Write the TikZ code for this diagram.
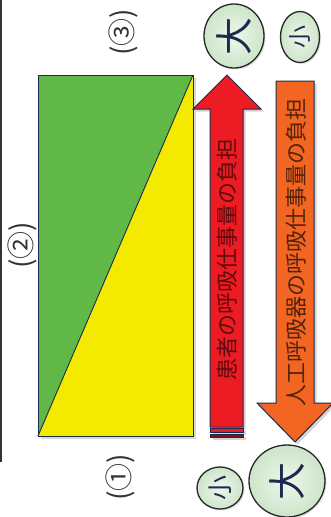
\documentclass[tikz,border=0pt]{standalone}
\usepackage{fontspec}
\newfontfamily\cjk{Noto Sans CJK JP}
\usetikzlibrary{shadows,shapes.geometric}
\definecolor{navy}{HTML}{1B2A4E}
\definecolor{myred}{HTML}{ED1C24}
\definecolor{myorange}{HTML}{F26522}
\definecolor{mygreen}{HTML}{60B946}
\definecolor{myyellow}{HTML}{F3EA00}
\definecolor{circin}{HTML}{EEF7EC}
\definecolor{circout}{HTML}{CDE5C9}
\tikzset{
  shad/.style={drop shadow={opacity=0.35,shadow xshift=2.5pt,shadow yshift=-2.5pt}},
  arrowbody/.style={draw=navy,line width=1pt,shad},
  bubble/.style={ellipse,draw=black!85,line width=1.3pt,inner color=circin,outer color=circout,drop shadow={opacity=0.25,shadow xshift=1.5pt,shadow yshift=-1.5pt},text=navy,inner sep=0pt},
  vtext/.style={rotate=90,inner sep=0pt,font=\cjk},
  numlabel/.style={rotate=90,inner sep=0pt,font=\cjk\fontsize{28}{28}\selectfont,text=black!80},
}
\begin{document}
\begin{tikzpicture}[x=1pt,y=-1pt]
\useasboundingbox (0,0) rectangle (331,517);
% left border line
\coordinate (lt) at (1,0);
\coordinate (lb) at (1,462);
\draw[line width=2pt,black!80] (lt) -- (lb);
% rectangle
\fill[black!30,opacity=0.5] (40.5,77.5) rectangle (196,439);
\fill[mygreen] (38,75) -- (193,75) -- (38,436) -- cycle;
\fill[myyellow] (193,75) -- (193,436) -- (38,436) -- cycle;
\draw[navy,line width=0.9pt] (193,75) -- (38,436);
\draw[navy,line width=0.8pt] (38,75) rectangle (193,436);
% red arrow
\path[arrowbody,fill=myred] (210,427) -- (210,109) -- (193,109) -- (227,75) -- (261,109) -- (243,109) -- (243,427) -- cycle;
\path[draw=navy,line width=0.8pt,fill=myred,shad] (210,428.5) rectangle (243,432);
\path[draw=navy,line width=0.8pt,fill=myred!55!black,shad] (210,434) rectangle (243,437);
\node[vtext,text=myred!40!black,font=\cjk\fontsize{22}{22}\selectfont] (redtext) at (227,259) {患者の呼吸仕事量の負担};
% orange arrow
\path[arrowbody,fill=myorange] (276,81) -- (314,81) -- (314,403) -- (333,403) -- (295,442) -- (257,403) -- (276,403) -- cycle;
\node[vtext,text=myorange!35!black,font=\cjk\fontsize{22}{22}\selectfont] (ortext) at (296,252) {人工呼吸器の呼吸仕事量の負担};
% bubbles
\node[bubble,minimum width=60pt,minimum height=64pt] (bigtop) at (234,36) {};
\node[vtext,text=navy,font=\cjk\fontsize{38}{38}\selectfont] at (bigtop) {大};
\node[bubble,minimum width=39pt,minimum height=51pt] (smalltop) at (300,37) {};
\node[vtext,text=navy,font=\cjk\fontsize{23}{23}\selectfont] at (smalltop) {小};
\node[bubble,minimum width=46pt,minimum height=42pt] (smallbot) at (220,488) {};
\node[vtext,text=navy,font=\cjk\fontsize{25}{25}\selectfont] at (smallbot) {小};
\node[bubble,minimum width=76pt,minimum height=72pt] (bigbot) at (287,481) {};
\node[vtext,text=navy,font=\cjk\fontsize{38}{38}\selectfont] at (bigbot) {大};
% number labels
\node[numlabel] (n3) at (123,32) {(③)};
\node[numlabel] (n2) at (22,245) {(②)};
\node[numlabel] (n1) at (120,477) {(①)};
\end{tikzpicture}
\end{document}
